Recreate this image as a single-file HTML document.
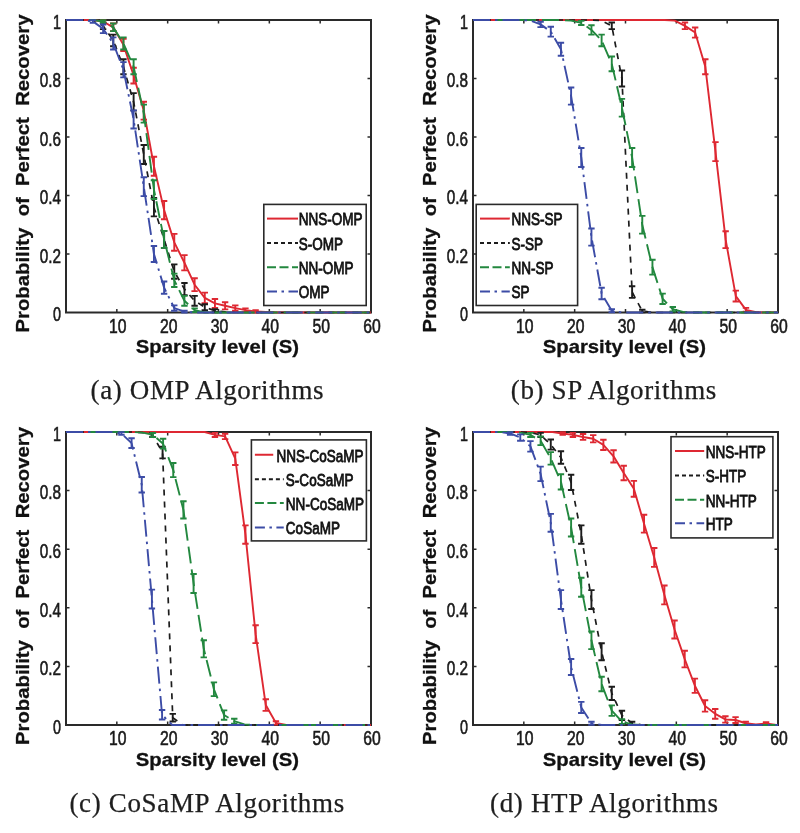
<!DOCTYPE html><html><head><meta charset="utf-8"><style>html,body{margin:0;padding:0;background:#fff;}svg{display:block;will-change:transform}</style></head><body>
<svg width="800" height="833" viewBox="0 0 800 833">
<rect width="800" height="833" fill="#fff"/>
<path d="M116.83,312.5 V309 M116.83,20 V23.5 M167.67,312.5 V309 M167.67,20 V23.5 M218.5,312.5 V309 M218.5,20 V23.5 M269.33,312.5 V309 M269.33,20 V23.5 M320.17,312.5 V309 M320.17,20 V23.5 M66,254 H69.5 M371,254 H367.5 M66,195.5 H69.5 M371,195.5 H367.5 M66,137 H69.5 M371,137 H367.5 M66,78.5 H69.5 M371,78.5 H367.5" stroke="#2a2a2a" stroke-width="1.5" fill="none"/>
<rect x="66" y="20" width="305" height="292.5" fill="none" stroke="#2a2a2a" stroke-width="2"/>
<clipPath id="clipa"><rect x="64" y="18" width="309" height="296.5"/></clipPath>
<g clip-path="url(#clipa)">
<path d="M66,20 L72.61,20 L82.78,20 L92.94,20 L103.11,21.46 L113.28,27.31 L123.44,44.86 L133.61,75.57 L143.78,110.68 L153.94,166.25 L164.11,210.12 L174.28,242.3 L184.44,262.77 L194.61,284.71 L204.78,297.88 L214.94,303.43 L225.11,305.77 L235.28,308.11 L245.44,310.16 L255.61,311.33 L265.77,311.92 L275.94,312.5 L286.11,312.5 L296.27,312.5 L306.44,312.5 L316.61,312.5 L326.77,312.5 L336.94,312.5 L347.11,312.5 L357.27,312.5 L367.44,312.5 L371,312.5" fill="none" stroke="#de2832" stroke-width="1.9" stroke-linejoin="round"/>
<path d="M103.11,20.11 V22.82 M99.91,20.11 H106.31 M99.91,22.82 H106.31 M113.28,23.51 V31.12 M110.08,23.51 H116.48 M110.08,31.12 H116.48 M123.44,38.68 V51.05 M120.24,38.68 H126.64 M120.24,51.05 H126.64 M133.61,67.69 V83.46 M130.41,67.69 H136.81 M130.41,83.46 H136.81 M143.78,101.74 V119.61 M140.58,101.74 H146.97 M140.58,119.61 H146.97 M153.94,156.75 V175.75 M150.74,156.75 H157.14 M150.74,175.75 H157.14 M164.11,200.97 V219.28 M160.91,200.97 H167.31 M160.91,219.28 H167.31 M174.28,233.89 V250.71 M171.08,233.89 H177.47 M171.08,250.71 H177.47 M184.44,255.14 V270.41 M181.24,255.14 H187.64 M181.24,270.41 H187.64 M194.61,278.31 V291.11 M191.41,278.31 H197.81 M191.41,291.11 H197.81 M204.78,292.61 V303.14 M201.58,292.61 H207.97 M201.58,303.14 H207.97 M214.94,299.03 V307.83 M211.74,299.03 H218.14 M211.74,307.83 H218.14 M225.11,302.18 V309.37 M221.91,302.18 H228.31 M221.91,309.37 H228.31 M235.28,305.4 V310.82 M232.08,305.4 H238.47 M232.08,310.82 H238.47 M245.44,308.35 V311.97 M242.24,308.35 H248.64 M242.24,311.97 H248.64 M255.61,310.14 V312.52 M252.41,310.14 H258.81 M252.41,312.52 H258.81" fill="none" stroke="#de2832" stroke-width="1.9"/>
<path d="M66,20 L72.61,20 L82.78,20 L92.94,20 L103.11,25.85 L113.28,40.47 L123.44,66.8 L133.61,101.9 L143.78,154.55 L153.94,207.2 L164.11,239.38 L174.28,271.55 L184.44,289.1 L194.61,300.8 L204.78,307.24 L214.94,310.75 L225.11,311.92 L235.28,312.5 L245.44,312.5 L255.61,312.5 L265.77,312.5 L275.94,312.5 L286.11,312.5 L296.27,312.5 L306.44,312.5 L316.61,312.5 L326.77,312.5 L336.94,312.5 L347.11,312.5 L357.27,312.5 L367.44,312.5 L371,312.5" fill="none" stroke="#1c1c1c" stroke-width="1.7" stroke-linejoin="round" stroke-dasharray="6,6"/>
<path d="M103.11,22.57 V29.13 M99.91,22.57 H106.31 M99.91,29.13 H106.31 M113.28,34.65 V46.3 M110.08,34.65 H116.48 M110.08,46.3 H116.48 M123.44,59.3 V74.3 M120.24,59.3 H126.64 M120.24,74.3 H126.64 M133.61,93.17 V110.63 M130.41,93.17 H136.81 M130.41,110.63 H136.81 M143.78,145.07 V164.03 M140.58,145.07 H146.97 M140.58,164.03 H146.97 M153.94,198 V216.4 M150.74,198 H157.14 M150.74,216.4 H157.14 M164.11,230.88 V247.87 M160.91,230.88 H167.31 M160.91,247.87 H167.31 M174.28,264.35 V278.75 M171.08,264.35 H177.47 M171.08,278.75 H177.47 M184.44,283.03 V295.17 M181.24,283.03 H187.64 M181.24,295.17 H187.64 M194.61,295.86 V305.74 M191.41,295.86 H197.81 M191.41,305.74 H197.81 M204.78,304.18 V310.29 M201.58,304.18 H207.97 M201.58,310.29 H207.97 M214.94,309.23 V312.26 M211.74,309.23 H218.14 M211.74,312.26 H218.14" fill="none" stroke="#1c1c1c" stroke-width="1.9"/>
<path d="M66,20 L72.61,20 L82.78,20 L92.94,20 L103.11,21.46 L113.28,27.31 L123.44,43.4 L133.61,66.8 L143.78,113.6 L153.94,189.65 L164.11,239.38 L174.28,280.32 L184.44,300.8 L194.61,310.16 L204.78,312.5 L214.94,312.5 L225.11,312.5 L235.28,312.5 L245.44,312.5 L255.61,312.5 L265.77,312.5 L275.94,312.5 L286.11,312.5 L296.27,312.5 L306.44,312.5 L316.61,312.5 L326.77,312.5 L336.94,312.5 L347.11,312.5 L357.27,312.5 L367.44,312.5 L371,312.5" fill="none" stroke="#23883f" stroke-width="1.9" stroke-linejoin="round" stroke-dasharray="17,6"/>
<path d="M103.11,20.11 V22.82 M99.91,20.11 H106.31 M99.91,22.82 H106.31 M113.28,23.51 V31.12 M110.08,23.51 H116.48 M110.08,31.12 H116.48 M123.44,37.33 V49.47 M120.24,37.33 H126.64 M120.24,49.47 H126.64 M133.61,59.3 V74.3 M130.41,59.3 H136.81 M130.41,74.3 H136.81 M143.78,104.6 V122.6 M140.58,104.6 H146.97 M140.58,122.6 H146.97 M153.94,180.25 V199.05 M150.74,180.25 H157.14 M150.74,199.05 H157.14 M164.11,230.88 V247.87 M160.91,230.88 H167.31 M160.91,247.87 H167.31 M174.28,273.63 V287.02 M171.08,273.63 H177.47 M171.08,287.02 H177.47 M184.44,295.86 V305.74 M181.24,295.86 H187.64 M181.24,305.74 H187.64 M194.61,308.35 V311.97 M191.41,308.35 H197.81 M191.41,311.97 H197.81" fill="none" stroke="#23883f" stroke-width="1.9"/>
<path d="M66,20 L72.61,20 L82.78,20 L92.94,21.46 L103.11,28.78 L113.28,43.4 L123.44,69.73 L133.61,119.45 L143.78,186.73 L153.94,254 L164.11,287.64 L174.28,308.11 L184.44,311.62 L194.61,312.5 L204.78,312.5 L214.94,312.5 L225.11,312.5 L235.28,312.5 L245.44,312.5 L255.61,312.5 L265.77,312.5 L275.94,312.5 L286.11,312.5 L296.27,312.5 L306.44,312.5 L316.61,312.5 L326.77,312.5 L336.94,312.5 L347.11,312.5 L357.27,312.5 L367.44,312.5 L371,312.5" fill="none" stroke="#3c4ca6" stroke-width="1.9" stroke-linejoin="round" stroke-dasharray="17,5,2.5,5"/>
<path d="M92.94,20.11 V22.82 M89.74,20.11 H96.14 M89.74,22.82 H96.14 M103.11,24.47 V33.08 M99.91,24.47 H106.31 M99.91,33.08 H106.31 M113.28,37.33 V49.47 M110.08,37.33 H116.48 M110.08,49.47 H116.48 M123.44,62.09 V77.36 M120.24,62.09 H126.64 M120.24,77.36 H126.64 M133.61,110.34 V128.56 M130.41,110.34 H136.81 M130.41,128.56 H136.81 M143.78,177.3 V196.15 M140.58,177.3 H146.97 M140.58,196.15 H146.97 M153.94,246 V262 M150.74,246 H157.14 M150.74,262 H157.14 M164.11,281.45 V293.82 M160.91,281.45 H167.31 M160.91,293.82 H167.31 M174.28,305.4 V310.82 M171.08,305.4 H177.47 M171.08,310.82 H177.47 M184.44,310.62 V312.62 M181.24,310.62 H187.64 M181.24,312.62 H187.64" fill="none" stroke="#3c4ca6" stroke-width="1.9"/>
</g>
<g font-family="Liberation Sans, sans-serif" font-size="20.5" fill="#1a1a1a" stroke="#1a1a1a" stroke-width="0.6"><text x="117.83" y="332.8" text-anchor="middle" textLength="17.5" lengthAdjust="spacingAndGlyphs">10</text><text x="168.67" y="332.8" text-anchor="middle" textLength="17.5" lengthAdjust="spacingAndGlyphs">20</text><text x="219.5" y="332.8" text-anchor="middle" textLength="17.5" lengthAdjust="spacingAndGlyphs">30</text><text x="270.33" y="332.8" text-anchor="middle" textLength="17.5" lengthAdjust="spacingAndGlyphs">40</text><text x="321.17" y="332.8" text-anchor="middle" textLength="17.5" lengthAdjust="spacingAndGlyphs">50</text><text x="372" y="332.8" text-anchor="middle" textLength="17.5" lengthAdjust="spacingAndGlyphs">60</text><text x="61" y="321.3" text-anchor="end" textLength="8" lengthAdjust="spacingAndGlyphs">0</text><text x="61" y="262.8" text-anchor="end" textLength="21.25" lengthAdjust="spacingAndGlyphs">0.2</text><text x="61" y="204.3" text-anchor="end" textLength="21.25" lengthAdjust="spacingAndGlyphs">0.4</text><text x="61" y="145.8" text-anchor="end" textLength="21.25" lengthAdjust="spacingAndGlyphs">0.6</text><text x="61" y="87.3" text-anchor="end" textLength="21.25" lengthAdjust="spacingAndGlyphs">0.8</text><text x="61" y="28.8" text-anchor="end" textLength="8" lengthAdjust="spacingAndGlyphs">1</text></g>
<text x="135.8" y="353" font-family="Liberation Sans, sans-serif" font-weight="bold" font-size="18.5" fill="#111" stroke="#111" stroke-width="0.3" textLength="163.3" lengthAdjust="spacingAndGlyphs">Sparsity level (S)</text>
<text transform="translate(29,332.5) rotate(-90)" x="0" y="0" font-family="Liberation Sans, sans-serif" font-weight="bold" font-size="19" fill="#111" stroke="#111" stroke-width="0.3" textLength="318" lengthAdjust="spacingAndGlyphs" style="white-space:pre" xml:space="preserve">Probability  of  Perfect  Recovery</text>
<rect x="263.8" y="204.4" width="102.4" height="101.1" fill="#fff" stroke="#2a2a2a" stroke-width="1.6"/>
<path d="M267,218.6 H298" stroke="#de2832" stroke-width="2"/>
<text x="298.75" y="225.4" font-family="Liberation Sans, sans-serif" font-size="16.5" fill="#111" stroke="#111" stroke-width="0.8" transform="translate(298.75,0) scale(0.82,1) translate(-298.75,0)">NNS-OMP</text>
<path d="M267,242.9 H298" stroke="#1c1c1c" stroke-width="2" stroke-dasharray="4,3"/>
<text x="298.75" y="249.7" font-family="Liberation Sans, sans-serif" font-size="16.5" fill="#111" stroke="#111" stroke-width="0.8" transform="translate(298.75,0) scale(0.82,1) translate(-298.75,0)">S-OMP</text>
<path d="M267,267.2 H298" stroke="#23883f" stroke-width="2" stroke-dasharray="9,3.5"/>
<text x="298.75" y="274" font-family="Liberation Sans, sans-serif" font-size="16.5" fill="#111" stroke="#111" stroke-width="0.8" transform="translate(298.75,0) scale(0.82,1) translate(-298.75,0)">NN-OMP</text>
<path d="M267,291.5 H298" stroke="#3c4ca6" stroke-width="2" stroke-dasharray="10,4.5,2.5,4.5"/>
<text x="298.75" y="298.3" font-family="Liberation Sans, sans-serif" font-size="16.5" fill="#111" stroke="#111" stroke-width="0.8" transform="translate(298.75,0) scale(0.82,1) translate(-298.75,0)">OMP</text>
<path d="M523.83,312.5 V309 M523.83,20 V23.5 M574.67,312.5 V309 M574.67,20 V23.5 M625.5,312.5 V309 M625.5,20 V23.5 M676.33,312.5 V309 M676.33,20 V23.5 M727.17,312.5 V309 M727.17,20 V23.5 M473,254 H476.5 M778,254 H774.5 M473,195.5 H476.5 M778,195.5 H774.5 M473,137 H476.5 M778,137 H774.5 M473,78.5 H476.5 M778,78.5 H774.5" stroke="#2a2a2a" stroke-width="1.5" fill="none"/>
<rect x="473" y="20" width="305" height="292.5" fill="none" stroke="#2a2a2a" stroke-width="2"/>
<clipPath id="clipb"><rect x="471" y="18" width="309" height="296.5"/></clipPath>
<g clip-path="url(#clipb)">
<path d="M473,20 L481.64,20 L491.81,20 L501.98,20 L512.14,20 L522.31,20 L532.48,20 L542.64,20 L552.81,20 L562.98,20 L573.14,20 L583.31,20 L593.48,20 L603.64,20 L613.81,20 L623.98,20 L634.14,20 L644.31,20 L654.47,20 L664.64,20 L674.81,20.58 L684.97,25.85 L695.14,32.58 L705.31,66.8 L715.47,151.62 L725.64,239.67 L735.81,296.12 L745.97,309.87 L756.14,312.21 L766.31,312.5 L776.48,312.5 L778,312.5" fill="none" stroke="#de2832" stroke-width="1.9" stroke-linejoin="round"/>
<path d="M684.97,22.57 V29.13 M681.77,22.57 H688.17 M681.77,29.13 H688.17 M695.14,27.53 V37.62 M691.94,27.53 H698.34 M691.94,37.62 H698.34 M705.31,59.3 V74.3 M702.11,59.3 H708.51 M702.11,74.3 H708.51 M715.47,142.16 V161.09 M712.27,142.16 H718.67 M712.27,161.09 H718.67 M725.64,231.18 V248.15 M722.44,231.18 H728.84 M722.44,248.15 H728.84 M735.81,290.67 V301.57 M732.61,290.67 H739.01 M732.61,301.57 H739.01 M745.97,307.92 V311.82 M742.77,307.92 H749.17 M742.77,311.82 H749.17" fill="none" stroke="#de2832" stroke-width="1.9"/>
<path d="M473,20 L479.61,20 L489.77,20 L499.94,20 L510.11,20 L520.27,20 L530.44,20 L540.61,20 L550.77,20 L560.94,20 L571.11,20 L581.27,20 L591.44,20 L601.61,20.58 L611.77,25.85 L621.94,78.5 L632.11,292.02 L642.27,311.04 L652.44,312.5 L662.61,312.5 L672.77,312.5 L682.94,312.5 L693.11,312.5 L703.27,312.5 L713.44,312.5 L723.61,312.5 L733.77,312.5 L743.94,312.5 L754.11,312.5 L764.27,312.5 L774.44,312.5 L778,312.5" fill="none" stroke="#1c1c1c" stroke-width="1.7" stroke-linejoin="round" stroke-dasharray="6,6"/>
<path d="M611.77,22.57 V29.13 M608.57,22.57 H614.98 M608.57,29.13 H614.98 M621.94,70.5 V86.5 M618.74,70.5 H625.14 M618.74,86.5 H625.14 M632.11,286.2 V297.85 M628.91,286.2 H635.31 M628.91,297.85 H635.31 M642.27,309.68 V312.39 M639.07,309.68 H645.48 M639.07,312.39 H645.48" fill="none" stroke="#1c1c1c" stroke-width="1.9"/>
<path d="M473,20 L479.61,20 L489.77,20 L499.94,20 L510.11,20 L520.27,20 L530.44,20 L540.61,20 L550.77,20 L560.94,20 L571.11,20.58 L581.27,22.93 L591.44,29.94 L601.61,40.47 L611.77,63.88 L621.94,107.75 L632.11,157.47 L642.27,224.75 L652.44,267.16 L662.61,298.75 L672.77,309.28 L682.94,311.92 L693.11,312.5 L703.27,312.5 L713.44,312.5 L723.61,312.5 L733.77,312.5 L743.94,312.5 L754.11,312.5 L764.27,312.5 L774.44,312.5 L778,312.5" fill="none" stroke="#23883f" stroke-width="1.9" stroke-linejoin="round" stroke-dasharray="17,6"/>
<path d="M581.27,20.84 V25.01 M578.07,20.84 H584.48 M578.07,25.01 H584.48 M591.44,25.26 V34.63 M588.24,25.26 H594.64 M588.24,34.63 H594.64 M601.61,34.65 V46.3 M598.41,34.65 H604.81 M598.41,46.3 H604.81 M611.77,56.52 V71.23 M608.57,56.52 H614.98 M608.57,71.23 H614.98 M621.94,98.88 V116.62 M618.74,98.88 H625.14 M618.74,116.62 H625.14 M632.11,147.99 V166.96 M628.91,147.99 H635.31 M628.91,166.96 H635.31 M642.27,215.88 V233.62 M639.07,215.88 H645.48 M639.07,233.62 H645.48 M652.44,259.73 V274.59 M649.24,259.73 H655.64 M649.24,274.59 H655.64 M662.61,293.58 V303.93 M659.41,293.58 H665.81 M659.41,303.93 H665.81 M672.77,307.07 V311.5 M669.57,307.07 H675.98 M669.57,311.5 H675.98" fill="none" stroke="#23883f" stroke-width="1.9"/>
<path d="M473,20 L479.61,20 L489.77,20 L499.94,20 L510.11,20 L520.27,20 L530.44,20.58 L540.61,24.39 L550.77,31.7 L560.94,49.25 L571.11,96.05 L581.27,157.47 L591.44,237.03 L601.61,293.49 L611.77,310.75 L621.94,312.5 L632.11,312.5 L642.27,312.5 L652.44,312.5 L662.61,312.5 L672.77,312.5 L682.94,312.5 L693.11,312.5 L703.27,312.5 L713.44,312.5 L723.61,312.5 L733.77,312.5 L743.94,312.5 L754.11,312.5 L764.27,312.5 L774.44,312.5 L778,312.5" fill="none" stroke="#3c4ca6" stroke-width="1.9" stroke-linejoin="round" stroke-dasharray="17,5,2.5,5"/>
<path d="M540.61,21.68 V27.1 M537.41,21.68 H543.81 M537.41,27.1 H543.81 M550.77,26.76 V36.64 M547.57,26.76 H553.98 M547.57,36.64 H553.98 M560.94,42.75 V55.75 M557.74,42.75 H564.14 M557.74,55.75 H564.14 M571.11,87.47 V104.63 M567.91,87.47 H574.31 M567.91,104.63 H574.31 M581.27,147.99 V166.96 M578.07,147.99 H584.48 M578.07,166.96 H584.48 M591.44,228.47 V245.6 M588.24,228.47 H594.64 M588.24,245.6 H594.64 M601.61,287.79 V299.19 M598.41,287.79 H604.81 M598.41,299.19 H604.81 M611.77,309.23 V312.26 M608.57,309.23 H614.98 M608.57,312.26 H614.98" fill="none" stroke="#3c4ca6" stroke-width="1.9"/>
</g>
<g font-family="Liberation Sans, sans-serif" font-size="20.5" fill="#1a1a1a" stroke="#1a1a1a" stroke-width="0.6"><text x="524.83" y="332.8" text-anchor="middle" textLength="17.5" lengthAdjust="spacingAndGlyphs">10</text><text x="575.67" y="332.8" text-anchor="middle" textLength="17.5" lengthAdjust="spacingAndGlyphs">20</text><text x="626.5" y="332.8" text-anchor="middle" textLength="17.5" lengthAdjust="spacingAndGlyphs">30</text><text x="677.33" y="332.8" text-anchor="middle" textLength="17.5" lengthAdjust="spacingAndGlyphs">40</text><text x="728.17" y="332.8" text-anchor="middle" textLength="17.5" lengthAdjust="spacingAndGlyphs">50</text><text x="779" y="332.8" text-anchor="middle" textLength="17.5" lengthAdjust="spacingAndGlyphs">60</text><text x="468" y="321.3" text-anchor="end" textLength="8" lengthAdjust="spacingAndGlyphs">0</text><text x="468" y="262.8" text-anchor="end" textLength="21.25" lengthAdjust="spacingAndGlyphs">0.2</text><text x="468" y="204.3" text-anchor="end" textLength="21.25" lengthAdjust="spacingAndGlyphs">0.4</text><text x="468" y="145.8" text-anchor="end" textLength="21.25" lengthAdjust="spacingAndGlyphs">0.6</text><text x="468" y="87.3" text-anchor="end" textLength="21.25" lengthAdjust="spacingAndGlyphs">0.8</text><text x="468" y="28.8" text-anchor="end" textLength="8" lengthAdjust="spacingAndGlyphs">1</text></g>
<text x="542.8" y="353" font-family="Liberation Sans, sans-serif" font-weight="bold" font-size="18.5" fill="#111" stroke="#111" stroke-width="0.3" textLength="163.3" lengthAdjust="spacingAndGlyphs">Sparsity level (S)</text>
<text transform="translate(436,332.5) rotate(-90)" x="0" y="0" font-family="Liberation Sans, sans-serif" font-weight="bold" font-size="19" fill="#111" stroke="#111" stroke-width="0.3" textLength="318" lengthAdjust="spacingAndGlyphs" style="white-space:pre" xml:space="preserve">Probability  of  Perfect  Recovery</text>
<rect x="476.2" y="204.4" width="101.4" height="101.1" fill="#fff" stroke="#2a2a2a" stroke-width="1.6"/>
<path d="M480,218.6 H509.8" stroke="#de2832" stroke-width="2"/>
<text x="511.4" y="225.4" font-family="Liberation Sans, sans-serif" font-size="16.5" fill="#111" stroke="#111" stroke-width="0.8" transform="translate(511.4,0) scale(0.82,1) translate(-511.4,0)">NNS-SP</text>
<path d="M480,242.9 H509.8" stroke="#1c1c1c" stroke-width="2" stroke-dasharray="4,3"/>
<text x="511.4" y="249.7" font-family="Liberation Sans, sans-serif" font-size="16.5" fill="#111" stroke="#111" stroke-width="0.8" transform="translate(511.4,0) scale(0.82,1) translate(-511.4,0)">S-SP</text>
<path d="M480,267.2 H509.8" stroke="#23883f" stroke-width="2" stroke-dasharray="9,3.5"/>
<text x="511.4" y="274" font-family="Liberation Sans, sans-serif" font-size="16.5" fill="#111" stroke="#111" stroke-width="0.8" transform="translate(511.4,0) scale(0.82,1) translate(-511.4,0)">NN-SP</text>
<path d="M480,291.5 H509.8" stroke="#3c4ca6" stroke-width="2" stroke-dasharray="10,4.5,2.5,4.5"/>
<text x="511.4" y="298.3" font-family="Liberation Sans, sans-serif" font-size="16.5" fill="#111" stroke="#111" stroke-width="0.8" transform="translate(511.4,0) scale(0.82,1) translate(-511.4,0)">SP</text>
<path d="M116.83,725 V721.5 M116.83,432 V435.5 M167.67,725 V721.5 M167.67,432 V435.5 M218.5,725 V721.5 M218.5,432 V435.5 M269.33,725 V721.5 M269.33,432 V435.5 M320.17,725 V721.5 M320.17,432 V435.5 M66,666.4 H69.5 M371,666.4 H367.5 M66,607.8 H69.5 M371,607.8 H367.5 M66,549.2 H69.5 M371,549.2 H367.5 M66,490.6 H69.5 M371,490.6 H367.5" stroke="#2a2a2a" stroke-width="1.5" fill="none"/>
<rect x="66" y="432" width="305" height="293" fill="none" stroke="#2a2a2a" stroke-width="2"/>
<clipPath id="clipc"><rect x="64" y="430" width="309" height="297"/></clipPath>
<g clip-path="url(#clipc)">
<path d="M66,432 L72.61,432 L82.78,432 L92.94,432 L103.11,432 L113.28,432 L123.44,432 L133.61,432 L143.78,432 L153.94,432 L164.11,432 L174.28,432 L184.44,432 L194.61,432 L204.78,432 L214.94,434.93 L225.11,436.39 L235.28,458.66 L245.44,534.55 L255.61,634.17 L265.77,705.08 L275.94,722.95 L286.11,725 L296.27,725 L306.44,725 L316.61,725 L326.77,725 L336.94,725 L347.11,725 L357.27,725 L367.44,725 L371,725" fill="none" stroke="#de2832" stroke-width="1.9" stroke-linejoin="round"/>
<path d="M214.94,432.84 V437.02 M211.74,432.84 H218.14 M211.74,437.02 H218.14 M225.11,433.69 V439.1 M221.91,433.69 H228.31 M221.91,439.1 H228.31 M235.28,452.35 V464.98 M232.08,452.35 H238.47 M232.08,464.98 H238.47 M245.44,525.4 V543.7 M242.24,525.4 H248.64 M242.24,543.7 H248.64 M255.61,625.23 V643.11 M252.41,625.23 H258.81 M252.41,643.11 H258.81 M265.77,699.3 V710.85 M262.57,699.3 H268.97 M262.57,710.85 H268.97 M275.94,721.28 V724.62 M272.74,721.28 H279.14 M272.74,724.62 H279.14" fill="none" stroke="#de2832" stroke-width="1.9"/>
<path d="M66,432 L71.08,432 L81.25,432 L91.42,432 L101.58,432 L111.75,432 L121.92,432 L132.08,432 L142.25,432.59 L152.42,434.93 L162.58,452.51 L172.75,717.67 L182.92,725 L193.08,725 L203.25,725 L213.42,725 L223.58,725 L233.75,725 L243.92,725 L254.08,725 L264.25,725 L274.42,725 L284.58,725 L294.75,725 L304.92,725 L315.08,725 L325.25,725 L335.42,725 L345.58,725 L355.75,725 L365.92,725 L371,725" fill="none" stroke="#1c1c1c" stroke-width="1.7" stroke-linejoin="round" stroke-dasharray="6,6"/>
<path d="M152.42,432.84 V437.02 M149.22,432.84 H155.62 M149.22,437.02 H155.62 M162.58,446.68 V458.34 M159.38,446.68 H165.78 M159.38,458.34 H165.78 M172.75,713.87 V721.48 M169.55,713.87 H175.95 M169.55,721.48 H175.95" fill="none" stroke="#1c1c1c" stroke-width="1.9"/>
<path d="M66,432 L71.59,432 L81.76,432 L91.92,432 L102.09,432 L112.26,432 L122.43,432 L132.59,432 L142.76,432.59 L152.93,434.93 L163.09,443.72 L173.26,470.09 L183.43,509.94 L193.59,583.48 L203.76,648.82 L213.93,689.25 L224.09,715.04 L234.26,721.19 L244.42,724.41 L254.59,725 L264.76,725 L274.92,725 L285.09,725 L295.26,725 L305.42,725 L315.59,725 L325.76,725 L335.92,725 L346.09,725 L356.26,725 L366.43,725 L371,725" fill="none" stroke="#23883f" stroke-width="1.9" stroke-linejoin="round" stroke-dasharray="17,6"/>
<path d="M152.93,432.84 V437.02 M149.73,432.84 H156.12 M149.73,437.02 H156.12 M163.09,438.78 V448.66 M159.89,438.78 H166.29 M159.89,448.66 H166.29 M173.26,463.05 V477.13 M170.06,463.05 H176.46 M170.06,477.13 H176.46 M183.43,501.31 V518.57 M180.23,501.31 H186.62 M180.23,518.57 H186.62 M193.59,573.99 V592.98 M190.39,573.99 H196.79 M190.39,592.98 H196.79 M203.76,640.24 V657.4 M200.56,640.24 H206.96 M200.56,657.4 H206.96 M213.93,682.34 V696.16 M210.73,682.34 H217.12 M210.73,696.16 H217.12 M224.09,710.35 V719.73 M220.89,710.35 H227.29 M220.89,719.73 H227.29 M234.26,718.72 V723.66 M231.06,718.72 H237.46 M231.06,723.66 H237.46" fill="none" stroke="#23883f" stroke-width="1.9"/>
<path d="M66,432 L70.58,432 L80.74,432 L90.91,432 L101.08,432 L111.24,432 L121.41,433.46 L131.57,443.13 L141.74,484.74 L151.91,599.01 L162.08,714.75 L172.24,725 L182.41,725 L192.58,725 L202.74,725 L212.91,725 L223.07,725 L233.24,725 L243.41,725 L253.57,725 L263.74,725 L273.91,725 L284.07,725 L294.24,725 L304.41,725 L314.57,725 L324.74,725 L334.91,725 L345.07,725 L355.24,725 L365.41,725 L371,725" fill="none" stroke="#3c4ca6" stroke-width="1.9" stroke-linejoin="round" stroke-dasharray="17,5,2.5,5"/>
<path d="M121.41,432.11 V434.82 M118.21,432.11 H124.61 M118.21,434.82 H124.61 M131.57,438.27 V448 M128.38,438.27 H134.77 M128.38,448 H134.77 M141.74,476.98 V492.5 M138.54,476.98 H144.94 M138.54,492.5 H144.94 M151.91,589.58 V608.44 M148.71,589.58 H155.11 M148.71,608.44 H155.11 M162.08,709.99 V719.5 M158.88,709.99 H165.28 M158.88,719.5 H165.28" fill="none" stroke="#3c4ca6" stroke-width="1.9"/>
</g>
<g font-family="Liberation Sans, sans-serif" font-size="20.5" fill="#1a1a1a" stroke="#1a1a1a" stroke-width="0.6"><text x="117.83" y="745.3" text-anchor="middle" textLength="17.5" lengthAdjust="spacingAndGlyphs">10</text><text x="168.67" y="745.3" text-anchor="middle" textLength="17.5" lengthAdjust="spacingAndGlyphs">20</text><text x="219.5" y="745.3" text-anchor="middle" textLength="17.5" lengthAdjust="spacingAndGlyphs">30</text><text x="270.33" y="745.3" text-anchor="middle" textLength="17.5" lengthAdjust="spacingAndGlyphs">40</text><text x="321.17" y="745.3" text-anchor="middle" textLength="17.5" lengthAdjust="spacingAndGlyphs">50</text><text x="372" y="745.3" text-anchor="middle" textLength="17.5" lengthAdjust="spacingAndGlyphs">60</text><text x="61" y="733.8" text-anchor="end" textLength="8" lengthAdjust="spacingAndGlyphs">0</text><text x="61" y="675.2" text-anchor="end" textLength="21.25" lengthAdjust="spacingAndGlyphs">0.2</text><text x="61" y="616.6" text-anchor="end" textLength="21.25" lengthAdjust="spacingAndGlyphs">0.4</text><text x="61" y="558" text-anchor="end" textLength="21.25" lengthAdjust="spacingAndGlyphs">0.6</text><text x="61" y="499.4" text-anchor="end" textLength="21.25" lengthAdjust="spacingAndGlyphs">0.8</text><text x="61" y="440.8" text-anchor="end" textLength="8" lengthAdjust="spacingAndGlyphs">1</text></g>
<text x="135.8" y="765.5" font-family="Liberation Sans, sans-serif" font-weight="bold" font-size="18.5" fill="#111" stroke="#111" stroke-width="0.3" textLength="163.3" lengthAdjust="spacingAndGlyphs">Sparsity level (S)</text>
<text transform="translate(29,745) rotate(-90)" x="0" y="0" font-family="Liberation Sans, sans-serif" font-weight="bold" font-size="19" fill="#111" stroke="#111" stroke-width="0.3" textLength="318" lengthAdjust="spacingAndGlyphs" style="white-space:pre" xml:space="preserve">Probability  of  Perfect  Recovery</text>
<rect x="251.4" y="439.9" width="115" height="101" fill="#fff" stroke="#2a2a2a" stroke-width="1.6"/>
<path d="M254.9,454.75 H273.25" stroke="#de2832" stroke-width="2"/>
<text x="276.4" y="461.55" font-family="Liberation Sans, sans-serif" font-size="16.5" fill="#111" stroke="#111" stroke-width="0.8" transform="translate(276.4,0) scale(0.82,1) translate(-276.4,0)">NNS-CoSaMP</text>
<path d="M254.9,479.25 H283.75" stroke="#1c1c1c" stroke-width="2" stroke-dasharray="4,3"/>
<text x="285.85" y="486.05" font-family="Liberation Sans, sans-serif" font-size="16.5" fill="#111" stroke="#111" stroke-width="0.8" transform="translate(285.85,0) scale(0.82,1) translate(-285.85,0)">S-CoSaMP</text>
<path d="M254.9,502.9 H283.75" stroke="#23883f" stroke-width="2" stroke-dasharray="9,3.5"/>
<text x="285.85" y="509.7" font-family="Liberation Sans, sans-serif" font-size="16.5" fill="#111" stroke="#111" stroke-width="0.8" transform="translate(285.85,0) scale(0.82,1) translate(-285.85,0)">NN-CoSaMP</text>
<path d="M254.9,527.4 H283.75" stroke="#3c4ca6" stroke-width="2" stroke-dasharray="10,4.5,2.5,4.5"/>
<text x="285.85" y="534.2" font-family="Liberation Sans, sans-serif" font-size="16.5" fill="#111" stroke="#111" stroke-width="0.8" transform="translate(285.85,0) scale(0.82,1) translate(-285.85,0)">CoSaMP</text>
<path d="M523.83,725 V721.5 M523.83,432 V435.5 M574.67,725 V721.5 M574.67,432 V435.5 M625.5,725 V721.5 M625.5,432 V435.5 M676.33,725 V721.5 M676.33,432 V435.5 M727.17,725 V721.5 M727.17,432 V435.5 M473,666.4 H476.5 M778,666.4 H774.5 M473,607.8 H476.5 M778,607.8 H774.5 M473,549.2 H476.5 M778,549.2 H774.5 M473,490.6 H476.5 M778,490.6 H774.5" stroke="#2a2a2a" stroke-width="1.5" fill="none"/>
<rect x="473" y="432" width="305" height="293" fill="none" stroke="#2a2a2a" stroke-width="2"/>
<clipPath id="clipd"><rect x="471" y="430" width="309" height="297"/></clipPath>
<g clip-path="url(#clipd)">
<path d="M473,432 L481.39,432 L491.55,432 L501.72,432 L511.89,432 L522.05,432 L532.22,432 L542.39,432 L552.55,432 L562.72,433.46 L572.89,434.93 L583.05,436.98 L593.22,438.74 L603.39,444.89 L613.55,456.32 L623.72,473.02 L633.89,488.84 L644.05,523.71 L654.22,557.4 L664.39,594.91 L674.55,629.48 L684.72,659.08 L694.89,685.74 L705.05,705.96 L715.22,713.87 L725.39,719.43 L735.55,720.02 L745.72,723.24 L755.89,724.41 L766.05,723.53 L776.22,725 L778,725" fill="none" stroke="#de2832" stroke-width="1.9" stroke-linejoin="round"/>
<path d="M562.72,432.11 V434.82 M559.52,432.11 H565.92 M559.52,434.82 H565.92 M572.89,432.84 V437.02 M569.69,432.84 H576.09 M569.69,437.02 H576.09 M583.05,434.04 V439.92 M579.85,434.04 H586.25 M579.85,439.92 H586.25 M593.22,435.14 V442.34 M590.02,435.14 H596.42 M590.02,442.34 H596.42 M603.39,439.82 V449.97 M600.19,439.82 H606.59 M600.19,449.97 H606.59 M613.55,450.18 V462.46 M610.35,450.18 H616.75 M610.35,462.46 H616.75 M623.72,465.82 V480.22 M620.52,465.82 H626.92 M620.52,480.22 H626.92 M633.89,480.91 V496.77 M630.69,480.91 H637.09 M630.69,496.77 H637.09 M644.05,514.75 V532.66 M640.85,514.75 H647.25 M640.85,532.66 H647.25 M654.22,547.98 V566.83 M651.02,547.98 H657.42 M651.02,566.83 H657.42 M664.39,585.46 V604.36 M661.19,585.46 H667.59 M661.19,604.36 H667.59 M674.55,620.45 V638.51 M671.35,620.45 H677.75 M671.35,638.51 H677.75 M684.72,650.81 V667.34 M681.52,650.81 H687.92 M681.52,667.34 H687.92 M694.89,678.63 V692.85 M691.69,678.63 H698.09 M691.69,692.85 H698.09 M705.05,700.26 V711.65 M701.85,700.26 H708.25 M701.85,711.65 H708.25 M715.22,709 V718.73 M712.02,709 H718.42 M712.02,718.73 H718.42 M725.39,716.27 V722.6 M722.19,716.27 H728.59 M722.19,722.6 H728.59 M735.55,717.08 V722.96 M732.35,717.08 H738.75 M732.35,722.96 H738.75 M745.72,721.73 V724.76 M742.52,721.73 H748.92 M742.52,724.76 H748.92 M766.05,722.18 V724.89 M762.85,722.18 H769.25 M762.85,724.89 H769.25" fill="none" stroke="#de2832" stroke-width="1.9"/>
<path d="M473,432 L479.61,432 L489.77,432 L499.94,432 L510.11,432 L520.27,432 L530.44,432.59 L540.61,434.93 L550.77,444.6 L560.94,457.49 L571.11,482.4 L581.27,534.55 L591.44,599.6 L601.61,651.75 L611.77,693.36 L621.94,715.33 L632.11,723.24 L642.27,725 L652.44,725 L662.61,725 L672.77,725 L682.94,725 L693.11,725 L703.27,725 L713.44,725 L723.61,725 L733.77,725 L743.94,725 L754.11,725 L764.27,725 L774.44,725 L778,725" fill="none" stroke="#1c1c1c" stroke-width="1.7" stroke-linejoin="round" stroke-dasharray="6,6"/>
<path d="M540.61,432.84 V437.02 M537.41,432.84 H543.81 M537.41,437.02 H543.81 M550.77,439.56 V449.64 M547.57,439.56 H553.98 M547.57,449.64 H553.98 M560.94,451.26 V463.72 M557.74,451.26 H564.14 M557.74,463.72 H564.14 M571.11,474.74 V490.06 M567.91,474.74 H574.31 M567.91,490.06 H574.31 M581.27,525.4 V543.7 M578.07,525.4 H584.48 M578.07,543.7 H584.48 M591.44,590.17 V609.02 M588.24,590.17 H594.64 M588.24,609.02 H594.64 M601.61,643.25 V660.25 M598.41,643.25 H604.81 M598.41,660.25 H604.81 M611.77,686.7 V700.01 M608.57,686.7 H614.98 M608.57,700.01 H614.98 M621.94,710.74 V719.93 M618.74,710.74 H625.14 M618.74,719.93 H625.14 M632.11,721.73 V724.76 M628.91,721.73 H635.31 M628.91,724.76 H635.31" fill="none" stroke="#1c1c1c" stroke-width="1.9"/>
<path d="M473,432 L479.61,432 L489.77,432 L499.94,432 L510.11,432 L520.27,432.59 L530.44,434.93 L540.61,440.79 L550.77,458.37 L560.94,481.81 L571.11,527.52 L581.27,587.29 L591.44,640.32 L601.61,683.98 L611.77,710.64 L621.94,721.48 L632.11,724.41 L642.27,725 L652.44,725 L662.61,725 L672.77,725 L682.94,725 L693.11,725 L703.27,725 L713.44,725 L723.61,725 L733.77,725 L743.94,725 L754.11,725 L764.27,725 L774.44,725 L778,725" fill="none" stroke="#23883f" stroke-width="1.9" stroke-linejoin="round" stroke-dasharray="17,6"/>
<path d="M530.44,432.84 V437.02 M527.24,432.84 H533.64 M527.24,437.02 H533.64 M540.61,436.49 V445.09 M537.41,436.49 H543.81 M537.41,445.09 H543.81 M550.77,452.08 V464.66 M547.57,452.08 H553.98 M547.57,464.66 H553.98 M560.94,474.18 V489.44 M557.74,474.18 H564.14 M557.74,489.44 H564.14 M571.11,518.49 V536.55 M567.91,518.49 H574.31 M567.91,536.55 H574.31 M581.27,577.8 V596.78 M578.07,577.8 H584.48 M578.07,596.78 H584.48 M591.44,631.52 V649.12 M588.24,631.52 H594.64 M588.24,649.12 H594.64 M601.61,676.78 V691.18 M598.41,676.78 H604.81 M598.41,691.18 H604.81 M611.77,705.4 V715.88 M608.57,705.4 H614.98 M608.57,715.88 H614.98 M621.94,719.14 V723.83 M618.74,719.14 H625.14 M618.74,723.83 H625.14" fill="none" stroke="#23883f" stroke-width="1.9"/>
<path d="M473,432 L479.61,432 L489.77,432 L499.94,432 L510.11,433.46 L520.27,437.57 L530.44,446.36 L540.61,473.9 L550.77,522.83 L560.94,599.6 L571.11,666.99 L581.27,707.42 L591.44,723.24 L601.61,725 L611.77,725 L621.94,725 L632.11,725 L642.27,725 L652.44,725 L662.61,725 L672.77,725 L682.94,725 L693.11,725 L703.27,725 L713.44,725 L723.61,725 L733.77,725 L743.94,725 L754.11,725 L764.27,725 L774.44,725 L778,725" fill="none" stroke="#3c4ca6" stroke-width="1.9" stroke-linejoin="round" stroke-dasharray="17,5,2.5,5"/>
<path d="M510.11,432.11 V434.82 M506.91,432.11 H513.31 M506.91,434.82 H513.31 M520.27,434.4 V440.73 M517.07,434.4 H523.48 M517.07,440.73 H523.48 M530.44,441.12 V451.6 M527.24,441.12 H533.64 M527.24,451.6 H533.64 M540.61,466.65 V481.15 M537.41,466.65 H543.81 M537.41,481.15 H543.81 M550.77,513.89 V531.77 M547.57,513.89 H553.98 M547.57,531.77 H553.98 M560.94,590.17 V609.02 M557.74,590.17 H564.14 M557.74,609.02 H564.14 M571.11,659.01 V674.96 M567.91,659.01 H574.31 M567.91,674.96 H574.31 M581.27,701.86 V712.98 M578.07,701.86 H584.48 M578.07,712.98 H584.48 M591.44,721.73 V724.76 M588.24,721.73 H594.64 M588.24,724.76 H594.64" fill="none" stroke="#3c4ca6" stroke-width="1.9"/>
</g>
<g font-family="Liberation Sans, sans-serif" font-size="20.5" fill="#1a1a1a" stroke="#1a1a1a" stroke-width="0.6"><text x="524.83" y="745.3" text-anchor="middle" textLength="17.5" lengthAdjust="spacingAndGlyphs">10</text><text x="575.67" y="745.3" text-anchor="middle" textLength="17.5" lengthAdjust="spacingAndGlyphs">20</text><text x="626.5" y="745.3" text-anchor="middle" textLength="17.5" lengthAdjust="spacingAndGlyphs">30</text><text x="677.33" y="745.3" text-anchor="middle" textLength="17.5" lengthAdjust="spacingAndGlyphs">40</text><text x="728.17" y="745.3" text-anchor="middle" textLength="17.5" lengthAdjust="spacingAndGlyphs">50</text><text x="779" y="745.3" text-anchor="middle" textLength="17.5" lengthAdjust="spacingAndGlyphs">60</text><text x="468" y="733.8" text-anchor="end" textLength="8" lengthAdjust="spacingAndGlyphs">0</text><text x="468" y="675.2" text-anchor="end" textLength="21.25" lengthAdjust="spacingAndGlyphs">0.2</text><text x="468" y="616.6" text-anchor="end" textLength="21.25" lengthAdjust="spacingAndGlyphs">0.4</text><text x="468" y="558" text-anchor="end" textLength="21.25" lengthAdjust="spacingAndGlyphs">0.6</text><text x="468" y="499.4" text-anchor="end" textLength="21.25" lengthAdjust="spacingAndGlyphs">0.8</text><text x="468" y="440.8" text-anchor="end" textLength="8" lengthAdjust="spacingAndGlyphs">1</text></g>
<text x="542.8" y="765.5" font-family="Liberation Sans, sans-serif" font-weight="bold" font-size="18.5" fill="#111" stroke="#111" stroke-width="0.3" textLength="163.3" lengthAdjust="spacingAndGlyphs">Sparsity level (S)</text>
<text transform="translate(436,745) rotate(-90)" x="0" y="0" font-family="Liberation Sans, sans-serif" font-weight="bold" font-size="19" fill="#111" stroke="#111" stroke-width="0.3" textLength="318" lengthAdjust="spacingAndGlyphs" style="white-space:pre" xml:space="preserve">Probability  of  Perfect  Recovery</text>
<rect x="671" y="436.7" width="101.9" height="101.2" fill="#fff" stroke="#2a2a2a" stroke-width="1.6"/>
<path d="M675,451 H704.2" stroke="#de2832" stroke-width="2"/>
<text x="705.8" y="457.8" font-family="Liberation Sans, sans-serif" font-size="16.5" fill="#111" stroke="#111" stroke-width="0.8" transform="translate(705.8,0) scale(0.82,1) translate(-705.8,0)">NNS-HTP</text>
<path d="M675,475.4 H704.2" stroke="#1c1c1c" stroke-width="2" stroke-dasharray="4,3"/>
<text x="705.8" y="482.2" font-family="Liberation Sans, sans-serif" font-size="16.5" fill="#111" stroke="#111" stroke-width="0.8" transform="translate(705.8,0) scale(0.82,1) translate(-705.8,0)">S-HTP</text>
<path d="M675,499.75 H704.2" stroke="#23883f" stroke-width="2" stroke-dasharray="9,3.5"/>
<text x="705.8" y="506.55" font-family="Liberation Sans, sans-serif" font-size="16.5" fill="#111" stroke="#111" stroke-width="0.8" transform="translate(705.8,0) scale(0.82,1) translate(-705.8,0)">NN-HTP</text>
<path d="M675,523.3 H704.2" stroke="#3c4ca6" stroke-width="2" stroke-dasharray="10,4.5,2.5,4.5"/>
<text x="705.8" y="530.1" font-family="Liberation Sans, sans-serif" font-size="16.5" fill="#111" stroke="#111" stroke-width="0.8" transform="translate(705.8,0) scale(0.82,1) translate(-705.8,0)">HTP</text>
<text x="90.6" y="398.5" font-family="Liberation Serif, serif" font-size="27" fill="#1e1e1e" stroke="#1e1e1e" stroke-width="0.25" textLength="233" lengthAdjust="spacing">(a) OMP Algorithms</text>
<text x="510.8" y="398.5" font-family="Liberation Serif, serif" font-size="27" fill="#1e1e1e" stroke="#1e1e1e" stroke-width="0.25" textLength="205.5" lengthAdjust="spacing">(b) SP Algorithms</text>
<text x="69.4" y="811.5" font-family="Liberation Serif, serif" font-size="27" fill="#1e1e1e" stroke="#1e1e1e" stroke-width="0.25" textLength="274.8" lengthAdjust="spacing">(c) CoSaMP Algorithms</text>
<text x="490" y="811.5" font-family="Liberation Serif, serif" font-size="27" fill="#1e1e1e" stroke="#1e1e1e" stroke-width="0.25" textLength="228" lengthAdjust="spacing">(d) HTP Algorithms</text>
</svg></body></html>
